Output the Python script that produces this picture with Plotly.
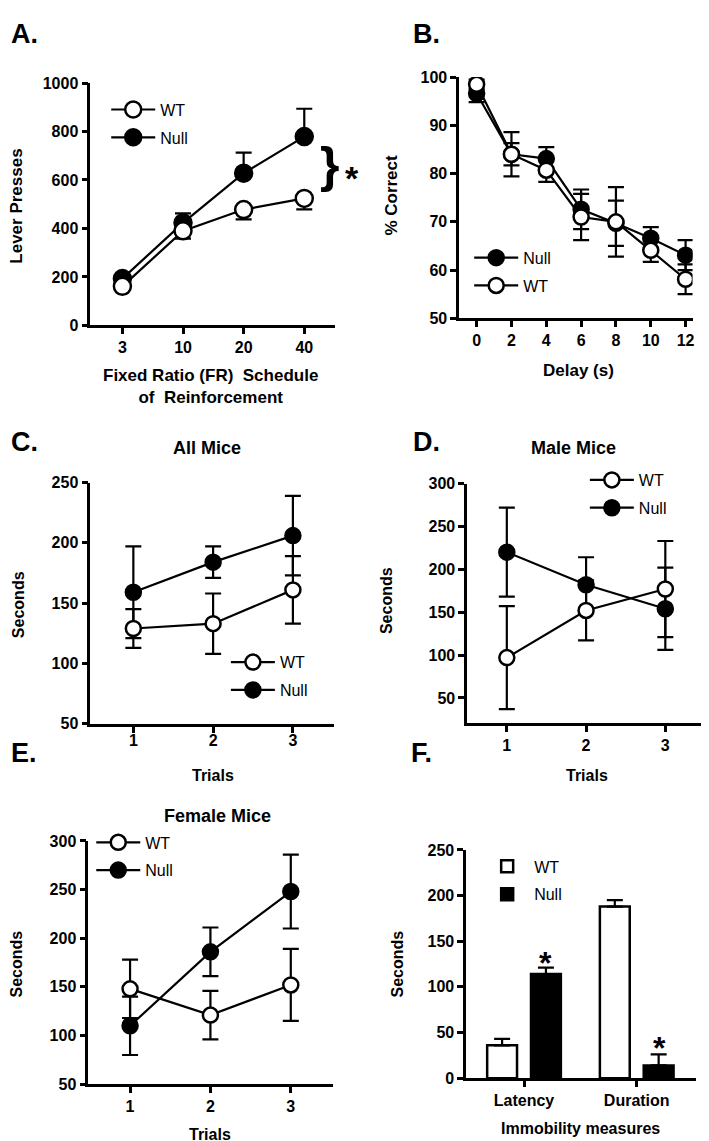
import plotly.graph_objects as go

# ---------------- data ----------------
a_x = ["3", "10", "20", "40"]
a_wt = [161, 390, 478, 524]
a_wt_err = [10, 32, 41, 45]
a_null = [193, 423, 628, 779]
a_null_err = [12, 39, 85, 115]

b_x = [0, 2, 4, 6, 8, 10, 12]
b_null = [96.6, 84.0, 83.1, 72.6, 69.7, 66.6, 63.1]
b_null_err = [1.8, 2.3, 2.4, 4.1, 4.7, 2.3, 3.1]
b_wt = [98.5, 84.0, 80.7, 71.0, 70.0, 64.1, 58.1]
b_wt_err = [1.0, 4.6, 2.4, 4.8, 7.2, 2.4, 3.1]

trials = [1, 2, 3]
c_wt = [129, 133, 161]
c_wt_err = [16, 25, 28]
c_null = [159, 184, 206]
c_null_err = [38, 13, 33]

d_wt = [97, 152, 177]
d_wt_err = [60, 35, 56]
d_null = [220, 182, 154]
d_null_err = [52, 32, 48]

e_wt = [148, 121, 152]
e_wt_err = [30, 25, 37]
e_null = [110, 186, 248]
e_null_err = [30, 25, 38]

f_cat = ["Latency", "Duration"]
f_wt = [36, 188]
f_wt_err = [7, 7]
f_null = [114, 14]
f_null_err = [7, 12]

# ---------------- helpers ----------------
W, H = 709, 1141
FONT = "Liberation Sans, Arial, sans-serif"


def px(x):
    # target picture x (pixels) -> paper fraction
    return max(0.0, (x - 7.5) / W)


def py(y):
    # target picture y (pixels from top) -> paper fraction
    return min(1.0, 1 - ((y - 16) / 0.984) / H)


def err(arr, up=True, down=True):
    n = len(arr)
    return dict(type="data", symmetric=False,
                array=arr if up else [0] * n,
                arrayminus=arr if down else [0] * n,
                color="black", thickness=2.2, width=8)


def sc(x, y, e, name, filled, xa, ya, leg, rank, size=15, up=True, down=True):
    return go.Scatter(
        x=x, y=y, name=name, mode="lines+markers",
        line=dict(color="black", width=2.2),
        marker=dict(size=size, color="black" if filled else "white",
                    line=dict(color="black", width=2.5)),
        error_y=err(e, up, down), xaxis=xa, yaxis=ya,
        legend=leg, legendrank=rank, legendgroup=leg + name, showlegend=True)


traces = []
traces.append(sc(a_x, a_null, a_null_err, "Null", True, "x", "y", "legend", 2, 17, up=True, down=False))
traces.append(sc(a_x, a_wt, a_wt_err, "WT", False, "x", "y", "legend", 1, 17, up=False, down=True))
traces.append(sc(b_x, b_null, b_null_err, "Null", True, "x2", "y2", "legend2", 1))
traces.append(sc(b_x, b_wt, b_wt_err, "WT", False, "x2", "y2", "legend2", 2))
traces.append(sc(trials, c_null, c_null_err, "Null", True, "x3", "y3", "legend3", 2))
traces.append(sc(trials, c_wt, c_wt_err, "WT", False, "x3", "y3", "legend3", 1))
traces.append(sc(trials, d_null, d_null_err, "Null", True, "x4", "y4", "legend4", 2))
traces.append(sc(trials, d_wt, d_wt_err, "WT", False, "x4", "y4", "legend4", 1))
traces.append(sc(trials, e_null, e_null_err, "Null", True, "x5", "y5", "legend5", 2))
traces.append(sc(trials, e_wt, e_wt_err, "WT", False, "x5", "y5", "legend5", 1))
traces.append(go.Bar(x=f_cat, y=f_wt, name="WT", width=0.265, offset=-0.327,
                     marker=dict(color="white", line=dict(color="black", width=2.5)),
                     error_y=err(f_wt_err, True, False), xaxis="x6", yaxis="y6",
                     legend="legend6", legendrank=1, legendgroup="fwt"))
traces.append(go.Bar(x=f_cat, y=f_null, name="Null", width=0.265, offset=0.062,
                     marker=dict(color="black", line=dict(color="black", width=2.5)),
                     error_y=err(f_null_err, True, False), xaxis="x6", yaxis="y6",
                     legend="legend6", legendrank=2, legendgroup="fnull"))

fig = go.Figure(traces)

tickfont = dict(family=FONT, size=16, color="black", weight="bold")


def bold(labels):
    return ["<b>%s</b>" % l for l in labels]


def axis(domain, anchor, rng, vals, **kw):
    d = dict(domain=domain, anchor=anchor, range=rng, showline=True, linewidth=2.5,
             linecolor="black", ticks="outside", ticklen=6, tickwidth=2.5,
             tickcolor="black", showgrid=False, zeroline=False, tickfont=tickfont,
             fixedrange=True, tickmode="array", tickvals=vals,
             ticktext=bold([str(v) for v in vals]))
    d.update(kw)
    return d


def xd(a, b):
    return [px(a), min(1.0, px(b))]


def yd(bottom, top):
    return [max(0.0, py(bottom)), py(top)]


layout = dict(
    width=W, height=H, margin=dict(l=0, r=0, t=0, b=0),
    paper_bgcolor="white", plot_bgcolor="white",
    font=dict(family=FONT, color="black"),
    xaxis=axis(xd(90, 335), "y", [-0.53, 3.5], a_x, type="category"),
    yaxis=axis(yd(325, 83), "x", [0, 1000], [0, 200, 400, 600, 800, 1000]),
    xaxis2=axis(xd(460, 694), "y2", [-1, 12.4], b_x),
    yaxis2=axis(yd(318, 77), "x2", [50, 100], [50, 60, 70, 80, 90, 100]),
    xaxis3=axis(xd(90, 334), "y3", [0.46, 3.51], trials, ticklabelstandoff=-6),
    yaxis3=axis(yd(723, 482), "x3", [50, 250], [50, 100, 150, 200, 250]),
    xaxis4=axis(xd(468, 708), "y4", [0.5, 3.52], trials),
    yaxis4=axis(yd(722, 483), "x4", [21, 300], [50, 100, 150, 200, 250, 300]),
    xaxis5=axis(xd(88, 333), "y5", [0.48, 3.52], trials),
    yaxis5=axis(yd(1083, 840), "x5", [50, 300], [50, 100, 150, 200, 250, 300]),
    xaxis6=axis(xd(467, 697), "y6", [-0.513, 1.522], f_cat, type="category"),
    yaxis6=axis(yd(1077, 849), "x6", [0, 250], [0, 50, 100, 150, 200, 250]),
)

legfont = dict(family=FONT, size=16, color="black")


def leg(xc, ycenter):
    return dict(x=px(xc - 27), y=py(ycenter - 17.5), xanchor="left", yanchor="top",
                bgcolor="rgba(0,0,0,0)", font=legfont, tracegroupgap=4,
                itemwidth=44, traceorder="grouped",
                itemclick=False, itemdoubleclick=False)


layout["legend"] = leg(133, 110)
layout["legend2"] = leg(497, 258)
layout["legend3"] = leg(253, 662)
layout["legend4"] = leg(613, 480)
layout["legend5"] = leg(118, 842)
layout["legend6"] = leg(508, 866)

fig.update_layout(**layout)

ann = []


def text(t, x, y, size=17, bold=True, angle=0, xanchor="center", yanchor="middle"):
    ann.append(dict(text=t, x=px(x), y=py(y), xref="paper", yref="paper",
                    showarrow=False, textangle=angle, xanchor=xanchor, yanchor=yanchor,
                    font=dict(family=FONT, size=size, color="black",
                              weight="bold" if bold else "normal")))


# panel letters
text("A.", 8.5, 17, 27, xanchor="left", yanchor="top")
text("B.", 412, 17, 27, xanchor="left", yanchor="top")
text("C.", 8.5, 442, 27, xanchor="left")
text("D.", 412, 442, 27, xanchor="left")
text("E.", 8.5, 752, 27, xanchor="left")
text("F.", 410, 752, 27, xanchor="left")

# panel titles
text("All Mice", 207, 448, 18)
text("Male Mice", 575, 448, 18)
text("Female Mice", 218, 815, 18)

# y titles
text("Lever Presses", 16, 206, 17, angle=-90)
text("% Correct", 392, 195, 17, angle=-90)
text("Seconds", 18, 604, 16, angle=-90)
text("Seconds", 387, 600, 16, angle=-90)
text("Seconds", 16, 963, 16, angle=-90)
text("Seconds", 398, 963, 16, angle=-90)

# x titles
text("Fixed Ratio (FR)  Schedule<br>of  Reinforcement", 211, 386, 17)
text("Delay (s)", 580, 370, 17)
text("Trials", 213, 775, 16)
text("Trials", 588, 775, 16)
text("Trials", 210, 1133, 16)
text("Immobility measures", 582, 1127, 16)

# significance marks
text("}", 330, 165, 50)
text("*", 352, 178, 34)
text("*", 547, 962, 32)
text("*", 661, 1047, 32)

fig.update_layout(annotations=ann)
fig.write_html("out.html")
